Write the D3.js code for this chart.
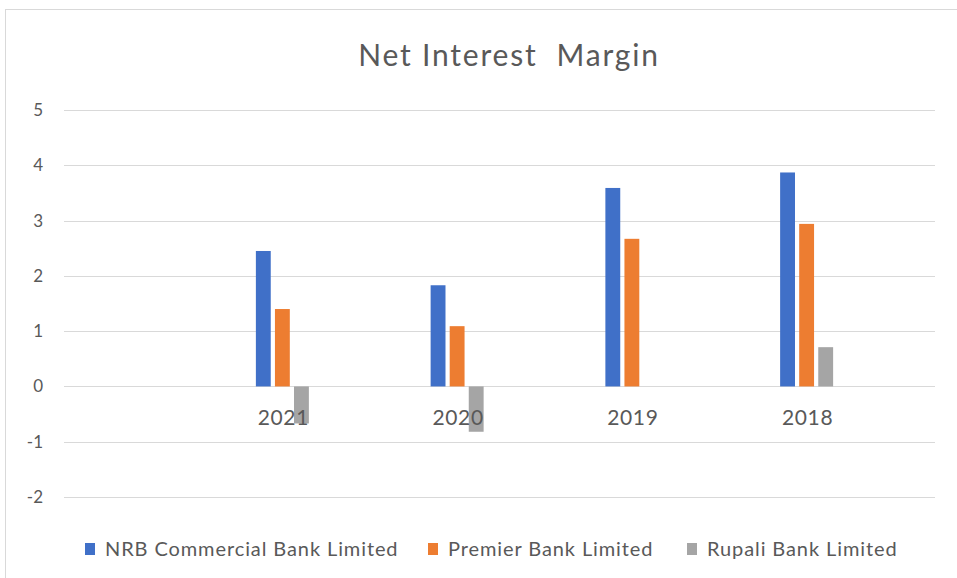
<!DOCTYPE html>
<html>
<head>
<meta charset="utf-8">
<script src="https://cdn.jsdelivr.net/npm/d3@7"></script>
<style>
  body { margin: 0; background: #fff; }
  text { font-family: Lato, "Open Sans", sans-serif; fill: #595959; }
</style>
</head>
<body>
<div id="chart"></div>
<script>
var chart_width  = 957;
var chart_height = 578;

// data
var years   = ["2021", "2020", "2019", "2018"];
var banks   = ["NRB Commercial Bank Limited", "Premier Bank Limited", "Rupali Bank Limited"];
var nrb     = [2.45, 1.83, 3.59, 3.87];
var premier = [1.40, 1.09, 2.67, 2.94];
var rupali  = [-0.67, -0.82, null, 0.71];
var yTicks  = [-2, -1, 0, 1, 2, 3, 4, 5];
var colors  = ["#4070C8", "#ED7D31", "#A5A5A5"];

var seriesValues = [nrb, premier, rupali];
var rows = years.map(function(y, i){
  return { year: y, values: banks.map(function(b, j){ return { bank: b, value: seriesValues[j][i] }; }) };
});

var svg = d3.select("#chart")
  .append("svg")
  .attr("width", chart_width)
  .attr("height", chart_height);

// chart frame
svg.append("rect")
  .attr("x", 5.5).attr("y", 9.5)
  .attr("width", 960).attr("height", 600)
  .style("fill", "#fff")
  .style("stroke", "#d9d9d9");

var plotLeft = 64, plotRight = 935;

var y = d3.scaleLinear()
  .domain([-2, 5])
  .range([497, 110]);

// categories sit offset to the right in the original
var x0 = d3.scaleBand()
  .domain(years)
  .range([195, 894]);

var x1 = d3.scaleBand()
  .domain(banks)
  .range([0, 53])
  .paddingInner(0.22);

// gridlines
svg.append("g")
  .selectAll("line")
  .data(yTicks)
  .enter()
  .append("line")
  .attr("x1", plotLeft)
  .attr("x2", plotRight)
  .attr("y1", function(d){ return Math.round(y(d)) + 0.5; })
  .attr("y2", function(d){ return Math.round(y(d)) + 0.5; })
  .style("stroke", "#d9d9d9")
  .style("stroke-width", 1);

// y axis labels
svg.append("g")
  .selectAll("text")
  .data(yTicks)
  .enter()
  .append("text")
  .attr("x", 43)
  .attr("y", function(d){ return y(d); })
  .attr("dy", "0.35em")
  .attr("text-anchor", "end")
  .style("font-size", "17px")
  .text(function(d){ return d; });

// bars
var groups = svg.append("g")
  .selectAll("g")
  .data(rows)
  .enter()
  .append("g")
  .attr("transform", function(d){
    return "translate(" + (x0(d.year) + x0.bandwidth() / 2 - 26.5) + ",0)";
  });

groups.selectAll("rect")
  .data(function(d){ return d.values.filter(function(v){ return v.value != null; }); })
  .enter()
  .append("rect")
  .attr("x", function(d){ return x1(d.bank); })
  .attr("width", x1.bandwidth())
  .attr("y", function(d){ return y(Math.max(0, d.value)); })
  .attr("height", function(d){ return Math.abs(y(d.value) - y(0)); })
  .style("fill", function(d){ return colors[banks.indexOf(d.bank)]; });

// category labels
svg.append("g")
  .selectAll("text")
  .data(years)
  .enter()
  .append("text")
  .attr("x", function(d){ return x0(d) + x0.bandwidth() / 2 + 1; })
  .attr("y", 425)
  .attr("text-anchor", "middle")
  .style("font-size", "21px")
  .style("letter-spacing", "0.6px")
  .text(function(d){ return d; });

// title
svg.append("text")
  .attr("x", 509)
  .attr("y", 66)
  .attr("text-anchor", "middle")
  .style("font-size", "30px")
  .style("letter-spacing", "1.8px")
  .text("Net Interest\u00a0 Margin");

// legend
var legendX = [85, 428, 687];
var legend = svg.append("g")
  .selectAll("g")
  .data(banks)
  .enter()
  .append("g")
  .attr("transform", function(d, i){ return "translate(" + legendX[i] + ",543)"; });

legend.append("rect")
  .attr("width", 10)
  .attr("height", 12)
  .style("fill", function(d, i){ return colors[i]; });

legend.append("text")
  .attr("x", 20)
  .attr("y", 13)
  .style("font-size", "20px")
  .style("letter-spacing", "0.9px")
  .text(function(d){ return d; });
</script>
</body>
</html>
